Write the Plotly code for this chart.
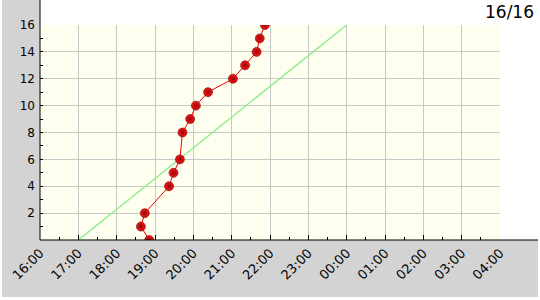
import plotly.graph_objects as go

# Data
times = ["2024-01-01 18:51", "2024-01-01 18:38", "2024-01-01 18:44", "2024-01-01 19:22",
         "2024-01-01 19:29", "2024-01-01 19:39", "2024-01-01 19:43", "2024-01-01 19:55",
         "2024-01-01 20:04", "2024-01-01 20:23", "2024-01-01 21:02", "2024-01-01 21:21",
         "2024-01-01 21:39", "2024-01-01 21:44", "2024-01-01 21:52"]
counts = [0, 1, 2, 4, 5, 6, 8, 9, 10, 11, 12, 13, 14, 15, 16]

ideal_times = ["2024-01-01 17:00", "2024-01-02 00:00"]
ideal_counts = [0, 16]

x_range = ["2024-01-01 16:00", "2024-01-02 04:00"]
y_tick_values = [2, 4, 6, 8, 10, 12, 14, 16]
title_text = "16/16"

W, H = 540, 300
L, R, T, B = 40, 40, 25, 60
pw, ph = W - L - R, H - T - B


def px_x(p):
    return (p - L) / pw


def px_y(p):
    return (H - B - p) / ph


fig = go.Figure()
fig.add_trace(go.Scatter(x=ideal_times, y=ideal_counts, mode="lines",
                         line=dict(color="#90ee90", width=1.5), hoverinfo="skip"))
fig.add_trace(go.Scatter(x=times, y=counts, mode="lines+markers",
                         line=dict(color="#ee0000", width=1),
                         marker=dict(size=9, color="#f21a1a",
                                     gradient=dict(type="radial", color="#9a0000"),
                                     line=dict(width=0.6, color="#7a0000"))))

font = dict(family="DejaVu Sans", size=12, color="#000000")
xfont = dict(family="DejaVu Sans", size=13, color="#000000")
fig.update_layout(
    width=W, height=H,
    margin=dict(l=L, r=R, t=T, b=B, pad=0, autoexpand=False),
    paper_bgcolor="white",
    plot_bgcolor="#fffff0",
    showlegend=False,
    font=font,
    xaxis=dict(type="date", range=x_range, dtick=3600000, tickformat="%H:%M",
               tickangle=-45, ticks="inside", ticklen=5, tickcolor="black",
               showgrid=True, gridcolor="#c8c8c8", gridwidth=1, automargin=False,
               showline=False, zeroline=False, tickfont=xfont, ticklabelstandoff=2,
               minor=dict(dtick=1800000, ticks="inside", ticklen=3,
                          tickcolor="black", showgrid=False)),
    yaxis=dict(range=[0, 16], tickvals=y_tick_values, ticks="inside", ticklen=3,
               tickcolor="black", showgrid=True, gridcolor="#c8c8c8", gridwidth=1,
               automargin=False,
               showline=False, zeroline=False, tickfont=font, ticklabelstandoff=4,
               minor=dict(dtick=1, ticks="inside", ticklen=3, tickcolor="black",
                          showgrid=False)),
)

gray = "#d3d3d3"
fig.add_shape(type="rect", xref="paper", yref="paper",
              x0=px_x(2), x1=px_x(40), y0=px_y(297), y1=px_y(0),
              fillcolor=gray, line=dict(width=0), layer="below")
fig.add_shape(type="rect", xref="paper", yref="paper",
              x0=px_x(2), x1=px_x(538), y0=px_y(297), y1=px_y(240),
              fillcolor=gray, line=dict(width=0), layer="below")
fig.add_shape(type="line", xref="paper", yref="paper",
              x0=0, x1=0, y0=0, y1=px_y(0), line=dict(color="black", width=1))
fig.add_shape(type="line", xref="paper", yref="paper",
              x0=0, x1=px_x(538), y0=0, y1=0, line=dict(color="black", width=1))

fig.add_annotation(text=title_text, xref="paper", yref="paper",
                   x=px_x(536), y=px_y(12), xanchor="right", yanchor="middle",
                   showarrow=False, font=dict(family="DejaVu Sans", size=17, color="black"))

fig.write_html("out.html")
